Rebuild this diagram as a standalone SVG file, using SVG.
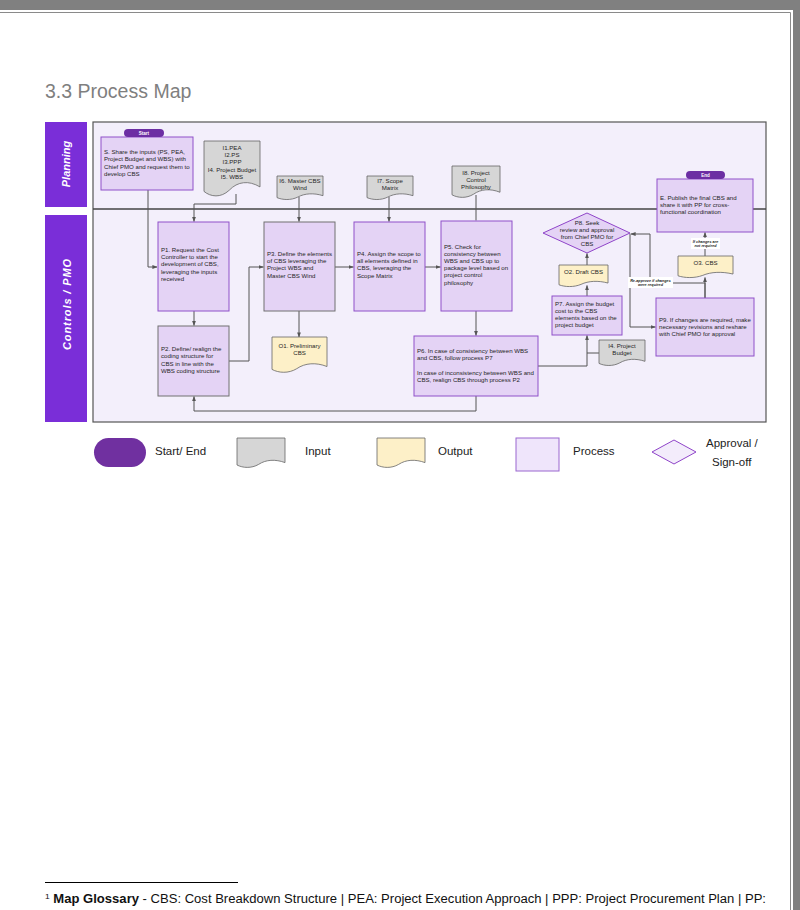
<svg xmlns="http://www.w3.org/2000/svg" width="800" height="910" viewBox="0 0 800 910">
<defs>
<marker id="arr" markerUnits="userSpaceOnUse" markerWidth="5" markerHeight="5" refX="4.6" refY="2.5" orient="auto"><path d="M0,0.6 L5,2.5 L0,4.4 z" fill="#555"/></marker>
</defs>
<style>
.t{font-family:"Liberation Sans",Arial,sans-serif;font-size:6.1px;fill:#262626}
.c{text-anchor:middle}
.proc{fill:#e4d3f5;stroke:#8f50c9;stroke-width:1}
.procg{fill:#e4d3f5;stroke:#707070;stroke-width:1}
.inp{fill:#d6d6d6;stroke:#666;stroke-width:0.8;vector-effect:non-scaling-stroke}
.out{fill:#fdf0c8;stroke:#666;stroke-width:0.8;vector-effect:non-scaling-stroke}
.pill{fill:#6c2ea3}
.pt{font-family:"Liberation Sans",Arial,sans-serif;font-size:4.5px;font-weight:bold;fill:#fff;text-anchor:middle}
.conn path{fill:none;stroke:#555;stroke-width:1}
.lane{fill:#7a2ed8}
.lanet{font-family:"Liberation Sans",Arial,sans-serif;font-size:11px;font-weight:bold;font-style:italic;fill:#fff;text-anchor:middle}
.lbl{font-family:"Liberation Sans",Arial,sans-serif;font-size:3.8px;font-weight:bold;font-style:italic;fill:#222;text-anchor:middle}
.leg{font-family:"Liberation Sans",Arial,sans-serif;font-size:11.5px;fill:#222}
</style>
<rect x="0" y="0" width="800" height="910" fill="#fff"/>
<rect x="0" y="0" width="800" height="10" fill="#808080"/>
<rect x="793" y="0" width="7" height="910" fill="#808080"/>
<path d="M0 12.5 H790.5 V910" fill="none" stroke="#8a8a8a" stroke-width="1"/>

<text x="45" y="98" font-family="'Liberation Sans',Arial,sans-serif" font-size="19.5" fill="#7f7f7f">3.3 Process Map</text>

<g id="lane-planning"><rect class="lane" x="45" y="122" width="42" height="85"/><text class="lanet" transform="translate(70 164) rotate(-90)">Planning</text></g>
<g id="lane-controls"><rect class="lane" x="45" y="215" width="42" height="207"/><text class="lanet" font-size="12" letter-spacing="0.9" transform="translate(70.5 304) rotate(-90)">Controls / PMO</text></g>

<g id="panel">
<rect x="93" y="122" width="673" height="300" fill="#f3effb" stroke="#555" stroke-width="1.2"/>
<line x1="93" y1="209" x2="766" y2="209" stroke="#444" stroke-width="1.6"/>
</g>

<g class="conn" id="connectors">
<path d="M148 190 V267 H157" marker-end="url(#arr)"/>
<path d="M236 194 V204 H194 V221.5" marker-end="url(#arr)"/>
<path d="M194 311 V325.5" marker-end="url(#arr)"/>
<path d="M229 361 H249 V267 H263.5" marker-end="url(#arr)"/>
<path d="M299 197 V221.5" marker-end="url(#arr)"/>
<path d="M299 311 V337" marker-end="url(#arr)"/>
<path d="M335 267 H353.5" marker-end="url(#arr)"/>
<path d="M389 197 V221.5" marker-end="url(#arr)"/>
<path d="M425 267 H440.5" marker-end="url(#arr)"/>
<path d="M476 195 V220.5" stroke="#999"/>
<path d="M476 311 V335.5" marker-end="url(#arr)"/>
<path d="M476 396 V411 H194 V396.5" marker-end="url(#arr)"/>
<path d="M538 366 H587 V335.5" marker-end="url(#arr)"/>
<path d="M599 353 H587"/>
<path d="M587 296 V285.5" marker-end="url(#arr)"/>
<path d="M587 266 V253.5" marker-end="url(#arr)"/>
<path d="M630 233.5 V327 H655.5" marker-end="url(#arr)"/>
<path d="M705 298 V283 H650 V234 H631" marker-end="url(#arr)"/>
<path d="M705 298 V277.5" marker-end="url(#arr)"/>
<path d="M705 257 V232.5" marker-end="url(#arr)"/>
<g id="lbl-reapprove"><rect x="628" y="277" width="45" height="11" fill="#fff"/><text class="lbl" x="650.5" y="281.5">Re-approve if changes</text><text class="lbl" x="650.5" y="286.3">were required</text></g>
<g id="lbl-notreq"><rect x="691" y="238" width="29" height="11" fill="#fff"/><text class="lbl" x="705.5" y="242.5">If changes are</text><text class="lbl" x="705.5" y="247.3">not required</text></g>
</g>

<g id="S">
<rect class="proc" x="101" y="137" width="92" height="53"/>
<text class="t" x="104" y="154">S. Share the inputs (PS, PEA,</text>
<text class="t" x="104" y="161.3">Project Budget and WBS) with</text>
<text class="t" x="104" y="168.6">Chief PMO and request them to</text>
<text class="t" x="104" y="176">develop CBS</text>
</g>
<g id="start"><rect class="pill" x="124" y="129" width="40" height="8" rx="4"/><text class="pt" x="144" y="134.7">Start</text></g>

<g id="I1-I5">
<path class="inp" d="M0 0H1V0.82C0.8 0.7 0.6 0.72 0.45 0.88C0.3 1.02 0.12 1 0 0.9Z" transform="translate(204 141) scale(56 56)"/>
<text class="t c" x="232" y="150">I1.PEA</text>
<text class="t c" x="232" y="157.3">I2.PS</text>
<text class="t c" x="232" y="164.3">I3.PPP</text>
<text class="t c" x="232" y="171.5" fill="#1f2d5a">I4. Project Budget</text>
<text class="t c" x="232" y="179">I5. WBS</text>
</g>

<g id="I6">
<path class="inp" d="M0 0H1V0.82C0.8 0.7 0.6 0.72 0.45 0.88C0.3 1.02 0.12 1 0 0.9Z" transform="translate(277 176) scale(46 24)"/>
<text class="t c" x="300" y="182.5" fill="#1f2d5a">I6. Master CBS</text>
<text class="t c" x="300" y="189.5">Wind</text>
</g>
<g id="I7">
<path class="inp" d="M0 0H1V0.82C0.8 0.7 0.6 0.72 0.45 0.88C0.3 1.02 0.12 1 0 0.9Z" transform="translate(367 176) scale(46 24)"/>
<text class="t c" x="390" y="182.5">I7. Scope</text>
<text class="t c" x="390" y="189.5">Matrix</text>
</g>
<g id="I8">
<path class="inp" d="M0 0H1V0.82C0.8 0.7 0.6 0.72 0.45 0.88C0.3 1.02 0.12 1 0 0.9Z" transform="translate(452 166) scale(48 32)"/>
<text class="t c" x="476" y="174.5">I8. Project</text>
<text class="t c" x="476" y="181.5">Control</text>
<text class="t c" x="476" y="188.5" fill="#1f2d5a">Philosophy</text>
</g>

<g id="P1">
<rect class="proc" x="158" y="222" width="71" height="89"/>
<text class="t" x="161" y="252">P1. Request the Cost</text>
<text class="t" x="161" y="259.2">Controller to start the</text>
<text class="t" x="161" y="266.4">development of CBS,</text>
<text class="t" x="161" y="273.6">leveraging the inputs</text>
<text class="t" x="161" y="280.8">received</text>
</g>
<g id="P2">
<rect class="procg" x="158" y="326" width="71" height="70"/>
<text class="t" x="161" y="351">P2. Define/ realign the</text>
<text class="t" x="161" y="358.3">coding structure for</text>
<text class="t" x="161" y="365.6">CBS in line with the</text>
<text class="t" x="161" y="372.9">WBS coding structure</text>
</g>
<g id="P3">
<rect class="procg" x="264" y="222" width="71" height="89"/>
<text class="t" x="267" y="256">P3. Define the elements</text>
<text class="t" x="267" y="263.2">of CBS leveraging the</text>
<text class="t" x="267" y="270.4">Project WBS and</text>
<text class="t" x="267" y="277.6">Master CBS Wind</text>
</g>
<g id="O1">
<path class="out" d="M0 0H1V0.82C0.8 0.7 0.6 0.72 0.45 0.88C0.3 1.02 0.12 1 0 0.9Z" transform="translate(272 337) scale(55 36)"/>
<text class="t c" x="299.5" y="347.5">O1. Preliminary</text>
<text class="t c" x="299.5" y="354.5">CBS</text>
</g>
<g id="P4">
<rect class="proc" x="354" y="222" width="71" height="89"/>
<text class="t" x="357" y="256">P4. Assign the scope to</text>
<text class="t" x="357" y="263.2">all elements defined in</text>
<text class="t" x="357" y="270.4">CBS, leveraging the</text>
<text class="t" x="357" y="277.6">Scope Matrix</text>
</g>
<g id="P5">
<rect class="proc" x="441" y="221" width="71" height="90"/>
<text class="t" x="444" y="248.5">P5. Check for</text>
<text class="t" x="444" y="255.7">consistency between</text>
<text class="t" x="444" y="262.9">WBS and CBS up to</text>
<text class="t" x="444" y="270.1">package level based on</text>
<text class="t" x="444" y="277.3">project control</text>
<text class="t" x="444" y="284.5">philosophy</text>
</g>
<g id="P6">
<rect class="proc" x="414" y="336" width="124" height="60"/>
<text class="t" x="417" y="352.5" font-size="5.8">P6. In case of consistency between WBS</text>
<text class="t" x="417" y="359.7" font-size="5.8">and CBS, follow process P7</text>
<text class="t" x="417" y="374.7" font-size="5.8">In case of inconsistency between WBS and</text>
<text class="t" x="417" y="381.9" font-size="5.8">CBS, realign CBS through process P2</text>
</g>
<g id="P7">
<rect class="proc" x="552" y="296" width="70" height="39"/>
<text class="t" x="555" y="306">P7. Assign the budget</text>
<text class="t" x="555" y="313">cost to the CBS</text>
<text class="t" x="555" y="320">elements based on the</text>
<text class="t" x="555" y="327">project budget</text>
</g>
<g id="I4">
<path class="inp" d="M0 0H1V0.82C0.8 0.7 0.6 0.72 0.45 0.88C0.3 1.02 0.12 1 0 0.9Z" transform="translate(599 340) scale(46 26)"/>
<text class="t c" x="622" y="347.5">I4. Project</text>
<text class="t c" x="622" y="355">Budget</text>
</g>
<g id="O2">
<path class="out" d="M0 0H1V0.82C0.8 0.7 0.6 0.72 0.45 0.88C0.3 1.02 0.12 1 0 0.9Z" transform="translate(559 265) scale(49 22)"/>
<text class="t c" x="583.5" y="274">O2. Draft CBS</text>
</g>
<g id="P8">
<polygon points="543,233 587,213 630,233 587,253" fill="#e4d3f5" stroke="#8f44c9" stroke-width="1"/>
<text class="t c" x="587" y="224.5">P8. Seek</text>
<text class="t c" x="587" y="231.5">review and approval</text>
<text class="t c" x="587" y="238.5">from Chief PMO for</text>
<text class="t c" x="587" y="245.5">CBS</text>
</g>
<g id="O3">
<path class="out" d="M0 0H1V0.82C0.8 0.7 0.6 0.72 0.45 0.88C0.3 1.02 0.12 1 0 0.9Z" transform="translate(678 256) scale(55 22)"/>
<text class="t c" x="705.5" y="265">O3. CBS</text>
</g>
<g id="P9">
<rect class="proc" x="656" y="298" width="98" height="58"/>
<text class="t" x="659" y="321.5" font-size="5.6">P9. If changes are required, make</text>
<text class="t" x="659" y="328.5" font-size="5.6">necessary revisions and reshare</text>
<text class="t" x="659" y="335.5" font-size="5.6">with Chief PMO for approval</text>
</g>
<g id="E">
<rect class="proc" x="657" y="179" width="96" height="53"/>
<text class="t" x="660" y="199.5">E. Publish the final CBS and</text>
<text class="t" x="660" y="206.7">share it with PP for cross-</text>
<text class="t" x="660" y="213.9">functional coordination</text>
</g>
<g id="end"><rect class="pill" x="686" y="171" width="39" height="8" rx="4"/><text class="pt" x="705.5" y="176.7">End</text></g>

<g id="legend">
<rect x="94" y="438" width="52" height="29" rx="14.5" fill="#7030a0"/>
<text class="leg" x="155" y="455">Start/ End</text>
<path class="inp" d="M0 0H1V0.82C0.8 0.7 0.6 0.72 0.45 0.88C0.3 1.02 0.12 1 0 0.9Z" transform="translate(237 438) scale(48 30)"/>
<text class="leg" x="305" y="455">Input</text>
<path class="out" d="M0 0H1V0.82C0.8 0.7 0.6 0.72 0.45 0.88C0.3 1.02 0.12 1 0 0.9Z" transform="translate(377 438) scale(48 30)"/>
<text class="leg" x="438" y="455">Output</text>
<rect x="516" y="438" width="43" height="33" fill="#efe5fb" stroke="#9a67cf" stroke-width="1"/>
<text class="leg" x="573" y="455">Process</text>
<polygon points="652,452 674,440 696,452 674,464" fill="#f3ecfb" stroke="#8f44c9" stroke-width="1"/>
<text class="leg" x="706" y="447">Approval /</text>
<text class="leg" x="712" y="466">Sign-off</text>
</g>

<g id="footer">
<line x1="45" y1="882.5" x2="238" y2="882.5" stroke="#000" stroke-width="1"/>
<text x="45" y="903" font-family="'Liberation Sans',Arial,sans-serif" font-size="12.3" fill="#111" textLength="721" lengthAdjust="spacingAndGlyphs"><tspan font-size="8" dy="-4">1</tspan><tspan dy="4" font-weight="bold"> Map Glossary</tspan> - CBS: Cost Breakdown Structure | PEA: Project Execution Approach | PPP: Project Procurement Plan | PP:</text>
</g>
</svg>
